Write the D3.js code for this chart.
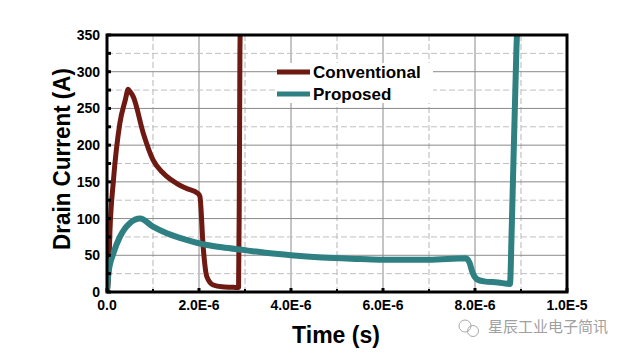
<!DOCTYPE html>
<html>
<head>
<meta charset="utf-8">
<script src="https://cdn.jsdelivr.net/npm/d3@7"></script>
<style>
  body { margin: 0; background: #fff; }
  text { font-family: "Liberation Sans", Arial, sans-serif; font-weight: bold; }
</style>
</head>
<body>
<svg id="chart" width="627" height="353"></svg>
<script>
// time in microseconds, current in A
const conventionalT = [0, 0.03, 0.065, 0.14, 0.28, 0.4, 0.46, 0.5, 0.57, 0.79, 1.0, 1.22, 1.51, 1.73, 1.98, 2.02, 2.09, 2.17, 2.31, 2.5, 2.75, 2.86, 2.875, 2.89, 2.9];
const conventionalI = [0, 16, 84, 152, 230, 262, 276, 273, 266, 216, 180, 162, 148, 141, 134, 130, 62, 21, 9.5, 7, 6.4, 6, 120, 330, 380];
const proposedT = [0, 0.03, 0.14, 0.28, 0.5, 0.72, 1.0, 1.3, 1.73, 2.17, 2.5, 3.0, 3.5, 4.0, 4.67, 5.5, 6.0, 7.0, 7.8, 7.88, 7.95, 8.05, 8.2, 8.5, 8.76, 8.8, 8.9, 8.93];
const proposedI = [0, 25, 53, 75, 94, 100, 89, 80, 71, 64, 61, 57, 53, 50, 47, 45, 44, 44, 46, 40, 26, 17, 14.5, 13, 11, 90, 330, 380];
const xTicks = [0, 2, 4, 6, 8, 10];
const xTickLabels = ['0.0', '2.0E-6', '4.0E-6', '6.0E-6', '8.0E-6', '1.0E-5'];
const yTicks = [0, 50, 100, 150, 200, 250, 300, 350];
const seriesNames = ['Conventional', 'Proposed'];
const seriesColors = ['#6e1a12', '#2e8082'];

const svg = d3.select('#chart');
const plot = { left: 107, right: 567, top: 35, bottom: 292 };

const x = d3.scaleLinear().domain([0, 10]).range([plot.left, plot.right]);
const y = d3.scaleLinear().domain([0, 350]).range([plot.bottom, plot.top]);

// grid
const grid = svg.append('g');
d3.range(1, 10).forEach(t => {
  grid.append('line')
    .attr('x1', x(t)).attr('x2', x(t))
    .attr('y1', plot.top).attr('y2', plot.bottom)
    .attr('stroke', t % 2 ? '#b5b5b5' : '#8a8a8a')
    .attr('stroke-dasharray', t % 2 ? '6,3' : null)
    .attr('stroke-width', 1);
});
d3.range(25, 350, 25).forEach(v => {
  const major = v % 50 === 0;
  grid.append('line')
    .attr('x1', plot.left).attr('x2', plot.right)
    .attr('y1', y(v)).attr('y2', y(v))
    .attr('stroke', major ? '#8a8a8a' : '#c0c0c0')
    .attr('stroke-dasharray', major ? null : '6,3')
    .attr('stroke-width', 1);
});

// legend background covers grid
svg.append('rect')
  .attr('x', 277).attr('y', 63).attr('width', 156).attr('height', 40)
  .attr('fill', '#fff');

// curves
svg.append('clipPath').attr('id', 'clip')
  .append('rect')
  .attr('x', plot.left).attr('y', plot.top)
  .attr('width', plot.right - plot.left).attr('height', plot.bottom - plot.top);

const line = d3.line()
  .x(d => x(d[0]))
  .y(d => y(d[1]))
  .curve(d3.curveMonotoneX);

const series = [
  d3.zip(conventionalT, conventionalI),
  d3.zip(proposedT, proposedI)
];
const widths = [5, 6];

series.forEach((pts, i) => {
  svg.append('path')
    .datum(pts)
    .attr('clip-path', 'url(#clip)')
    .attr('d', line)
    .attr('fill', 'none')
    .attr('stroke', seriesColors[i])
    .attr('stroke-width', widths[i])
    .attr('stroke-linejoin', 'round');
});

// ticks
const ticks = svg.append('g').attr('stroke', '#000');
d3.range(0, 351, 25).forEach(v => {
  ticks.append('line')
    .attr('x1', plot.left).attr('x2', plot.left + 4)
    .attr('y1', y(v)).attr('y2', y(v))
    .attr('stroke-width', 3);
});
d3.range(0, 11, 1).forEach(t => {
  ticks.append('line')
    .attr('x1', x(t)).attr('x2', x(t))
    .attr('y1', plot.bottom).attr('y2', plot.bottom - (t % 2 ? 3 : 4))
    .attr('stroke-width', t % 2 ? 2 : 3);
});

// frame
svg.append('rect')
  .attr('x', plot.left).attr('y', plot.top)
  .attr('width', plot.right - plot.left).attr('height', plot.bottom - plot.top)
  .attr('fill', 'none').attr('stroke', '#000').attr('stroke-width', 3);

// tick labels
svg.append('g').selectAll('text')
  .data(yTicks).join('text')
  .attr('x', plot.left - 7).attr('y', d => y(d) + 5)
  .attr('text-anchor', 'end')
  .style('font-size', '14px')
  .text(d => d);

svg.append('g').selectAll('text')
  .data(xTicks).join('text')
  .attr('x', d => x(d)).attr('y', 310)
  .attr('text-anchor', 'middle')
  .style('font-size', '14px')
  .text((d, i) => xTickLabels[i]);

// axis titles
svg.append('text')
  .attr('x', 336).attr('y', 343)
  .attr('text-anchor', 'middle')
  .style('font-size', '23px')
  .text('Time (s)');

svg.append('text')
  .attr('transform', 'translate(70,159) rotate(-90)')
  .attr('text-anchor', 'middle')
  .attr('textLength', 182)
  .attr('lengthAdjust', 'spacingAndGlyphs')
  .style('font-size', '23px')
  .text('Drain Current (A)');

// legend
seriesNames.forEach((name, i) => {
  const ly = 72 + i * 22;
  svg.append('line')
    .attr('x1', 277).attr('x2', 310)
    .attr('y1', ly).attr('y2', ly)
    .attr('stroke', seriesColors[i]).attr('stroke-width', 5);
  svg.append('text')
    .attr('x', 313).attr('y', ly + 6)
    .style('font-size', '17px')
    .text(name);
});

// watermark
const wm = svg.append('g').attr('fill', 'none').attr('stroke', '#aaa').attr('stroke-width', 1);
wm.append('circle').attr('cx', 465).attr('cy', 326).attr('r', 6);
wm.append('circle').attr('cx', 473).attr('cy', 331).attr('r', 5.5);
svg.append('text')
  .attr('x', 488).attr('y', 332)
  .style('font-family', '"Noto Sans CJK SC", sans-serif')
  .style('font-weight', 'normal')
  .style('font-size', '15px')
  .attr('fill', '#a0a0a0')
  .text('星辰工业电子简讯');
</script>
</body>
</html>
